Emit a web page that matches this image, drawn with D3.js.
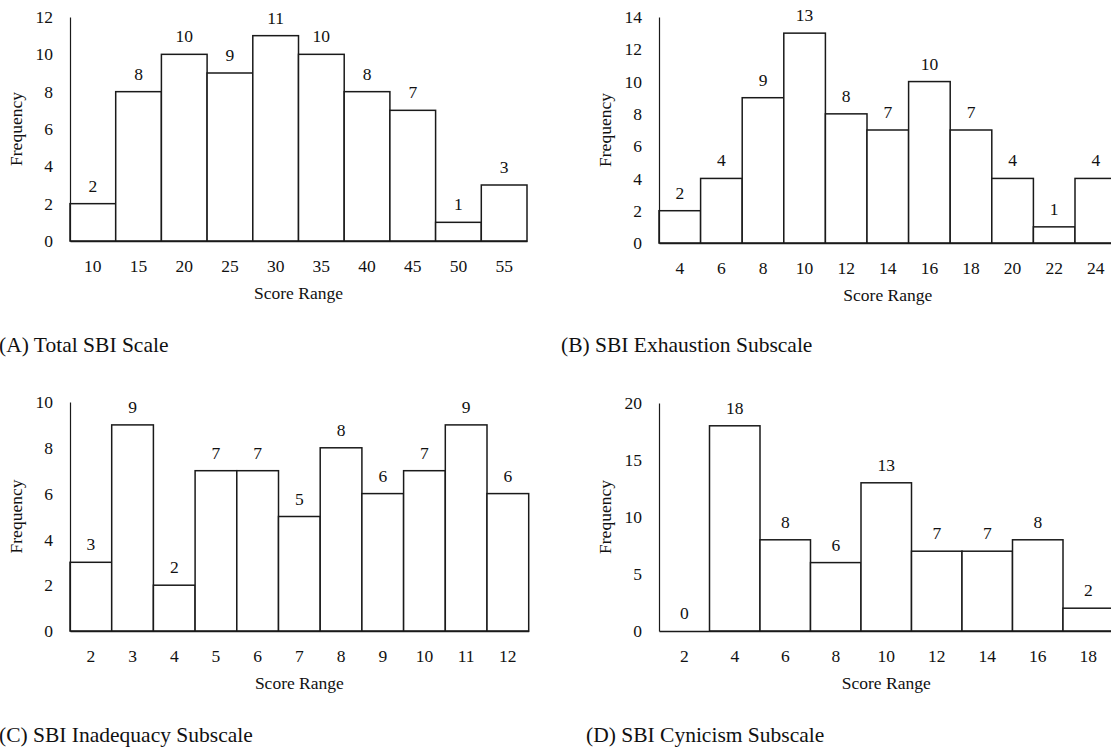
<!DOCTYPE html>
<html>
<head>
<meta charset="utf-8">
<script src="https://cdn.jsdelivr.net/npm/d3@7"></script>
<style>
  html, body { margin: 0; padding: 0; background: #fff; overflow: hidden; }
  svg { display: block; }
</style>
</head>
<body>
<svg id="chart" width="1111" height="748" font-family="Liberation Serif"></svg>
<script>
// ---- Data ----
const categoriesA = ["10","15","20","25","30","35","40","45","50","55"];
const valuesA     = [2, 8, 10, 9, 11, 10, 8, 7, 1, 3];
const yTicksA     = [0, 2, 4, 6, 8, 10, 12];
const titleA      = "(A) Total SBI Scale";

const categoriesB = ["4","6","8","10","12","14","16","18","20","22","24"];
const valuesB     = [2, 4, 9, 13, 8, 7, 10, 7, 4, 1, 4];
const yTicksB     = [0, 2, 4, 6, 8, 10, 12, 14];
const titleB      = "(B) SBI Exhaustion Subscale";

const categoriesC = ["2","3","4","5","6","7","8","9","10","11","12"];
const valuesC     = [3, 9, 2, 7, 7, 5, 8, 6, 7, 9, 6];
const yTicksC     = [0, 2, 4, 6, 8, 10];
const titleC      = "(C) SBI Inadequacy Subscale";

const categoriesD = ["2","4","6","8","10","12","14","16","18"];
const valuesD     = [0, 18, 8, 6, 13, 7, 7, 8, 2];
const yTicksD     = [0, 5, 10, 15, 20];
const titleD      = "(D) SBI Cynicism Subscale";

const xLabel = "Score Range";
const yLabel = "Frequency";

// ---- Layout ----
const svg = d3.select("#chart");
const FONT = "Liberation Serif";
const FS = 17.5;
const INK = "#111";

function styleText(sel, size) {
  return sel.attr("font-family", FONT).style("font-family", FONT)
    .attr("font-size", size).style("font-size", size + "px")
    .attr("fill", INK);
}

const panels = [
  { cats: categoriesA, vals: valuesA, ticks: yTicksA, title: titleA,
    left: 70, barW: 45.7, top: 17, bottom: 241, titleX: -1, titleY: 352 },
  { cats: categoriesB, vals: valuesB, ticks: yTicksB, title: titleB,
    left: 659, barW: 41.6, top: 17, bottom: 243, titleX: 561, titleY: 352 },
  { cats: categoriesC, vals: valuesC, ticks: yTicksC, title: titleC,
    left: 70, barW: 41.7, top: 402, bottom: 631, titleX: -1, titleY: 742 },
  { cats: categoriesD, vals: valuesD, ticks: yTicksD, title: titleD,
    left: 659, barW: 50.5, top: 403, bottom: 631, titleX: 586, titleY: 742 }
];

panels.forEach(p => {
  const right = p.left + p.cats.length * p.barW;
  const x = d3.scaleBand().domain(p.cats).range([p.left, right]).padding(0);
  const y = d3.scaleLinear().domain([0, d3.max(p.ticks)]).range([p.bottom, p.top]);
  const g = svg.append("g");
  const data = p.cats.map((c, i) => ({ c, v: p.vals[i] }));

  // bars
  g.selectAll("rect.bar").data(data.filter(d => d.v > 0)).join("rect")
    .attr("class", "bar")
    .attr("x", d => x(d.c))
    .attr("y", d => y(d.v))
    .attr("width", x.bandwidth())
    .attr("height", d => y(0) - y(d.v))
    .attr("fill", "#fff")
    .attr("stroke", "#1a1a1a")
    .attr("stroke-width", 1.5);

  // value labels
  styleText(g.selectAll("text.val").data(data).join("text")
    .attr("class", "val")
    .attr("x", d => x(d.c) + x.bandwidth() / 2)
    .attr("y", d => y(d.v) - 12)
    .attr("text-anchor", "middle")
    .text(d => d.v), FS);

  // y axis
  const yAxis = d3.axisLeft(y).tickValues(p.ticks).tickSize(0).tickPadding(17).tickFormat(d3.format("d"));
  const ya = g.append("g").attr("transform", `translate(${p.left},0)`).call(yAxis);
  ya.attr("font-family", FONT).attr("font-size", FS);
  ya.select(".domain").attr("stroke", "#1a1a1a").attr("stroke-width", 1.2);
  styleText(ya.selectAll("text"), FS);

  // x axis
  const xAxis = d3.axisBottom(x).tickSize(0).tickPadding(19);
  const xa = g.append("g").attr("transform", `translate(0,${p.bottom})`).call(xAxis);
  xa.attr("font-family", FONT).attr("font-size", FS);
  xa.select(".domain").attr("stroke", "#1a1a1a").attr("stroke-width", 1.5);
  styleText(xa.selectAll("text"), FS);

  // axis titles
  styleText(g.append("text")
    .attr("x", (p.left + right) / 2)
    .attr("y", p.bottom + 58)
    .attr("text-anchor", "middle")
    .text(xLabel), FS);
  styleText(g.append("text")
    .attr("transform", `translate(${p.left - 48},${(p.top + p.bottom) / 2}) rotate(-90)`)
    .attr("text-anchor", "middle")
    .text(yLabel), FS);

  // panel title
  styleText(g.append("text")
    .attr("x", p.titleX)
    .attr("y", p.titleY)
    .text(p.title), 21.5);
});
</script>
</body>
</html>
